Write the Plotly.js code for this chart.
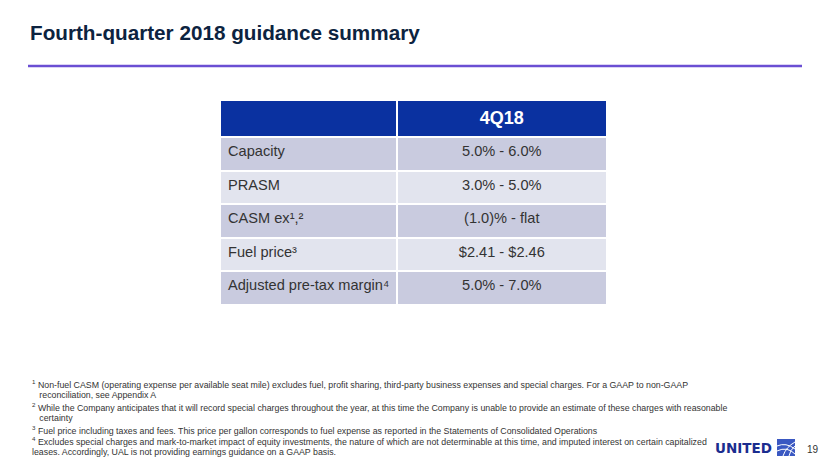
<!DOCTYPE html>
<html>
<head>
<meta charset="utf-8">
<script src="https://cdn.plot.ly/plotly-3.0.1.min.js"></script>
<style>html,body{margin:0;padding:0;background:#fff;}#chart{width:830px;height:467px;}</style>
</head>
<body>
<div id="chart"></div>
<script>
// ---- data ----
const headerLabels = ['', '<b>4Q18</b>'];
const metrics = ['Capacity', 'PRASM', 'CASM ex¹,²', 'Fuel price³', 'Adjusted pre-tax margin⁴'];
const guidance = ['5.0% - 6.0%', '3.0% - 5.0%', '(1.0)% - flat', '$2.41 - $2.46', '5.0% - 7.0%'];
const titleText = 'Fourth-quarter 2018 guidance summary';
const footnotes = [
  '<sup>1</sup> Non-fuel CASM (operating expense per available seat mile) excludes fuel, profit sharing, third-party business expenses and special charges. For a GAAP to non-GAAP',
  '   reconciliation, see Appendix A',
  '<sup>2</sup> While the Company anticipates that it will record special charges throughout the year, at this time the Company is unable to provide an estimate of these charges with reasonable',
  '   certainty',
  '<sup>3</sup> Fuel price including taxes and fees. This price per gallon corresponds to fuel expense as reported in the Statements of Consolidated Operations',
  '<sup>4</sup> Excludes special charges and mark-to-market impact of equity investments, the nature of which are not determinable at this time, and imputed interest on certain capitalized',
  'leases. Accordingly, UAL is not providing earnings guidance on a GAAP basis.'
];
const pageNumber = '19';
const brand = 'UNITED';

// ---- layout helpers ----
const W = 830, H = 467;
const px = x => x / W;
const py = y => 1 - y / H;
const nowrap = s => s.replace(/ /g, '\u00a0');

const dark = '#C9CBDF', light = '#E2E4EE';
const rowFill = metrics.map((_, i) => i % 2 === 0 ? dark : light);

const table = {
  type: 'table',
  domain: {x: [px(220), px(608)], y: [0, py(100)]},
  columnwidth: [177, 211],
  header: {
    values: headerLabels,
    align: ['left', 'center'],
    height: 37,
    fill: {color: '#0A31A0'},
    line: {color: '#ffffff', width: 2},
    font: {family: 'Liberation Sans, Arial, sans-serif', size: 18, color: '#ffffff'}
  },
  cells: {
    values: [metrics.map(nowrap), guidance.map(nowrap)],
    align: ['left', 'center'],
    height: 33.6,
    fill: {color: [rowFill, rowFill]},
    line: {color: '#ffffff', width: 2},
    font: {family: 'Liberation Sans, Arial, sans-serif', size: 14.6, color: '#333333'}
  }
};

const footY = [384, 395, 407, 418, 430, 441, 452];
const footX = [30, 30, 30, 30, 30, 30, 30];
const annotations = [
  {text: '<b>' + titleText + '</b>', x: px(28), y: py(33), xref: 'paper', yref: 'paper',
   xanchor: 'left', yanchor: 'middle', showarrow: false,
   font: {family: 'Liberation Sans, Arial, sans-serif', size: 20.7, color: '#0C2340'}},
  {text: '<b>' + brand + '</b>', x: px(774), y: py(448), xref: 'paper', yref: 'paper',
   xanchor: 'right', yanchor: 'middle', showarrow: false,
   font: {family: 'DejaVu Sans, sans-serif', size: 13.5, color: '#1B2D8F'}},
  {text: pageNumber, x: px(813), y: py(449), xref: 'paper', yref: 'paper',
   xanchor: 'center', yanchor: 'middle', showarrow: false,
   font: {family: 'Liberation Sans, Arial, sans-serif', size: 10, color: '#333333'}}
];
footnotes.forEach((t, i) => {
  annotations.push({text: t.replace(/^ +/, m => '\u00a0'.repeat(m.length)), x: px(footX[i]), y: py(footY[i]),
    xref: 'paper', yref: 'paper', xanchor: 'left', yanchor: 'middle', showarrow: false,
    font: {family: 'Liberation Sans, Arial, sans-serif', size: 8.8, color: '#333333'}});
});

const shapes = [
  {type: 'line', xref: 'paper', yref: 'paper', x0: px(28), x1: px(802), y0: py(66), y1: py(66),
   line: {color: '#6B4FD3', width: 2.5}},
  // globe logo square
  {type: 'rect', xref: 'paper', yref: 'paper', x0: px(777), x1: px(795), y0: py(456), y1: py(439),
   fillcolor: '#3A58C2', line: {width: 0}},
  {type: 'path', xref: 'paper', yref: 'paper',
   path: `M ${px(777)} ${py(446)} Q ${px(786)} ${py(442)} ${px(795)} ${py(449)}`, line: {color: '#ffffff', width: 1}},
  {type: 'path', xref: 'paper', yref: 'paper',
   path: `M ${px(777)} ${py(451)} Q ${px(787)} ${py(446)} ${px(795)} ${py(454)}`, line: {color: '#ffffff', width: 1}},
  {type: 'path', xref: 'paper', yref: 'paper',
   path: `M ${px(783)} ${py(456)} Q ${px(786)} ${py(447)} ${px(795)} ${py(442)}`, line: {color: '#ffffff', width: 1}},
  {type: 'path', xref: 'paper', yref: 'paper',
   path: `M ${px(789)} ${py(456)} Q ${px(790)} ${py(450)} ${px(795)} ${py(446)}`, line: {color: '#ffffff', width: 1}}
];

const layout = {
  width: W, height: H,
  margin: {l: 0, r: 0, t: 0, b: 0},
  paper_bgcolor: '#ffffff',
  plot_bgcolor: '#ffffff',
  showlegend: false,
  annotations: annotations,
  shapes: shapes
};

Plotly.newPlot('chart', [table], layout, {displayModeBar: false, staticPlot: true});
</script>
</body>
</html>
